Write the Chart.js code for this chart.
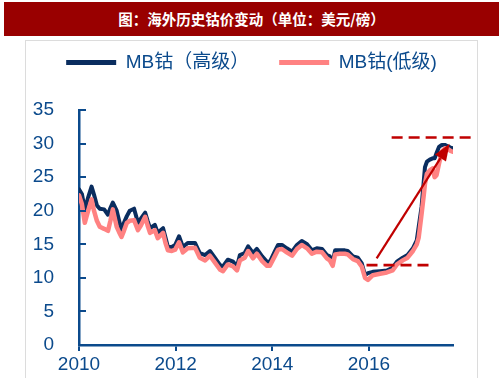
<!DOCTYPE html>
<html><head><meta charset="utf-8">
<script src="https://cdn.jsdelivr.net/npm/chart.js@4.4.1/dist/chart.umd.min.js"></script>
<style>
html,body{margin:0;padding:0;background:#fff;}
#wrap{position:relative;width:503px;height:378px;overflow:hidden;}
#title{position:absolute;left:4px;top:2px;width:495px;height:34px;background:#990000;color:#fff;font:bold 14.5px "Noto Sans CJK SC",sans-serif;line-height:34px;text-align:center;}
#frame{position:absolute;left:25px;top:40px;width:451px;height:360px;border:1px solid #dcdcdc;}
canvas{position:absolute;left:0;top:0;}
</style></head><body>
<div id="wrap"><div id="title">图：海外历史钴价变动（单位：美元/磅）</div><div id="frame"></div><canvas id="c" width="503" height="378"></canvas></div>
<script>
// decimal years
const dates = [2010.00,2010.06,2010.12,2010.19,2010.26,2010.31,2010.37,2010.43,2010.52,2010.60,2010.65,2010.70,2010.78,2010.83,2010.88,2010.93,2010.99,
2011.05,2011.14,2011.22,2011.28,2011.37,2011.42,2011.47,2011.57,2011.63,2011.74,2011.79,2011.84,2011.92,2011.99,
2012.07,2012.15,2012.25,2012.40,2012.50,2012.61,2012.71,2012.81,2012.92,2012.98,
2013.08,2013.19,2013.27,2013.33,2013.43,2013.50,2013.60,2013.68,2013.79,2013.89,2013.95,
2014.05,2014.12,2014.20,2014.30,2014.41,2014.51,2014.61,2014.72,2014.82,2014.92,
2015.03,2015.13,2015.19,2015.25,2015.30,2015.40,2015.50,2015.56,2015.67,2015.77,2015.85,2015.92,2015.98,
2016.08,2016.23,2016.37,2016.49,2016.58,2016.70,2016.80,2016.91,2016.99,
2017.03,2017.09,2017.13,2017.16,2017.20,2017.26,2017.32,2017.36,2017.40,2017.45,2017.51,2017.57,2017.63,2017.69,2017.73];
const highGrade = [23.2,22.5,20.2,22.0,23.6,22.4,20.8,20.3,20.2,19.4,20.4,21.2,20.0,18.5,17.1,18.2,19.2,
20.0,20.3,18.2,18.8,19.7,18.5,17.4,17.9,16.7,17.4,16.0,14.6,14.6,14.9,
16.2,14.6,15.2,15.2,13.7,13.4,14.0,13.0,11.9,11.7,
12.7,12.4,11.7,13.4,13.7,14.7,13.7,14.3,13.2,12.4,12.4,
13.9,14.9,14.9,14.4,13.9,14.9,15.5,15.0,14.1,14.4,
14.3,13.4,13.2,12.4,14.1,14.1,14.1,14.0,13.2,13.0,12.2,10.4,10.7,
10.9,11.0,11.1,11.5,12.4,13.0,13.4,14.4,15.6,
17.6,20.6,24.0,26.5,27.3,27.6,27.8,27.8,28.6,29.5,29.8,29.8,29.6,29.4,29.3];
const lowGrade = [22.3,21.0,18.2,20.0,21.7,20.0,18.5,17.6,17.3,17.0,18.5,20.2,17.6,16.8,16.1,17.0,18.2,
18.5,18.6,17.1,17.8,19.1,17.8,16.7,17.1,15.9,16.7,15.2,14.1,14.0,14.2,
15.3,13.8,14.4,14.5,13.0,12.6,13.3,12.3,11.2,11.0,
12.0,11.7,11.1,12.6,13.0,14.0,12.9,13.6,12.5,11.8,11.8,
13.2,14.2,14.3,13.8,13.3,14.3,14.9,14.4,13.6,13.9,
13.8,12.9,12.6,11.8,13.5,13.6,13.6,13.5,12.8,12.5,11.7,10.0,9.7,
10.4,10.6,10.8,11.1,12.0,12.6,13.0,14.0,15.0,
16.0,19.5,22.0,24.0,25.5,26.0,26.3,25.0,25.3,27.0,28.8,29.3,29.2,28.9,28.8];
const seriesNames = ['MB钴（高级）', 'MB钴(低级)'];
const xTicks = [2010, 2012, 2014, 2016];
const yTicks = [0, 5, 10, 15, 20, 25, 30, 35];
// reference levels: [value, fromYear, toYear]
const levelLines = [[30.9, 2016.47, 2018.13], [11.9, 2015.95, 2017.29]];
// trend arrow: [fromYear, fromValue], [toYear, toValue]
const trendArrow = [[2016.16, 12.9], [2017.67, 29.97]];

const BLUE = '#0b4a8c', NAVY = '#0a2d5f', PINK = '#ff8282', RED = '#c00000';

const annot = {
  id: 'annot',
  afterDatasetsDraw(chart) {
    const {ctx, scales: {x, y}, chartArea} = chart;
    ctx.save();
    // inward y ticks
    ctx.strokeStyle = BLUE; ctx.lineWidth = 2;
    yTicks.forEach(v => {
      const py = Math.round(y.getPixelForValue(v));
      ctx.beginPath(); ctx.moveTo(chartArea.left, py); ctx.lineTo(chartArea.left + 7, py); ctx.stroke();
    });
    // dashed level lines
    ctx.strokeStyle = RED; ctx.lineWidth = 2.6; ctx.setLineDash([11, 6]);
    levelLines.forEach(([v, a, b]) => {
      const py = y.getPixelForValue(v);
      ctx.beginPath(); ctx.moveTo(x.getPixelForValue(a), py); ctx.lineTo(x.getPixelForValue(b), py); ctx.stroke();
    });
    ctx.setLineDash([]);
    // arrow
    const x0 = x.getPixelForValue(trendArrow[0][0]), y0 = y.getPixelForValue(trendArrow[0][1]);
    const x1 = x.getPixelForValue(trendArrow[1][0]), y1 = y.getPixelForValue(trendArrow[1][1]);
    const ang = Math.atan2(y1 - y0, x1 - x0), L = 17, W = 6.5;
    const bx = x1 - L * Math.cos(ang), by = y1 - L * Math.sin(ang);
    ctx.strokeStyle = RED; ctx.fillStyle = RED; ctx.lineWidth = 2.2;
    ctx.beginPath(); ctx.moveTo(x0, y0); ctx.lineTo(bx, by); ctx.stroke();
    ctx.beginPath(); ctx.moveTo(x1, y1);
    ctx.lineTo(bx + W * Math.sin(ang), by - W * Math.cos(ang));
    ctx.lineTo(bx - W * Math.sin(ang), by + W * Math.cos(ang));
    ctx.closePath(); ctx.fill();
    ctx.restore();
  }
};
const legendHeight = {
  id: 'legendHeight',
  beforeInit(chart) {
    const fit = chart.legend.fit;
    chart.legend.fit = function () { fit.call(this); this.height = 87; };
  }
};

new Chart(document.getElementById('c'), {
  type: 'line',
  data: {
    datasets: [
      { label: seriesNames[0], data: dates.map((d, i) => ({x: d, y: highGrade[i]})), borderColor: NAVY, backgroundColor: NAVY, borderWidth: 4, order: 1 },
      { label: seriesNames[1], data: dates.map((d, i) => ({x: d, y: lowGrade[i]})), borderColor: PINK, backgroundColor: PINK, borderWidth: 4.5, order: 0 }
    ]
  },
  options: {
    responsive: false, animation: false, devicePixelRatio: 1,
    layout: { padding: { top: 23, left: 0, right: 0, bottom: 0 } },
    elements: { point: { radius: 0 }, line: { tension: 0, borderJoinStyle: 'round', borderCapStyle: 'round' } },
    plugins: {
      tooltip: { enabled: false },
      legend: {
        position: 'top',
        labels: {
          boxWidth: 50, boxHeight: 5, padding: 30, color: BLUE,
          font: { family: '"Liberation Sans", "Noto Sans CJK SC", sans-serif', size: 19 },
          sort: (a, b) => a.datasetIndex - b.datasetIndex,
          generateLabels: (c) => Chart.defaults.plugins.legend.labels.generateLabels(c).map(l => Object.assign(l, {lineWidth: 0}))
        }
      }
    },
    scales: {
      x: {
        type: 'linear', min: 2010, max: 2017.74,
        afterBuildTicks: s => { s.ticks = xTicks.map(v => ({value: v})); },
        afterFit: s => { s.height = 33; },
        grid: { display: true, drawOnChartArea: false, drawTicks: true, tickLength: 6, color: BLUE, lineWidth: 2 },
        border: { display: true, color: BLUE, width: 2.5 },
        ticks: { color: BLUE, padding: 2, autoSkip: false, maxRotation: 0, font: { family: '"Liberation Sans", sans-serif', size: 19 }, callback: v => String(v) }
      },
      y: {
        min: 0, max: 35,
        afterBuildTicks: s => { s.ticks = yTicks.map(v => ({value: v})); },
        afterFit: s => { s.width = 79; },
        grid: { display: false },
        border: { display: true, color: BLUE, width: 2.5 },
        ticks: { color: BLUE, padding: 17, font: { family: '"Liberation Sans", sans-serif', size: 19 }, callback: v => String(v) }
      },
      yR: {
        position: 'right', display: true,
        afterFit: s => { s.width = 50; },
        grid: { display: false }, border: { display: false }, ticks: { display: false }
      }
    }
  },
  plugins: [annot, legendHeight]
});
</script>
</body></html>
